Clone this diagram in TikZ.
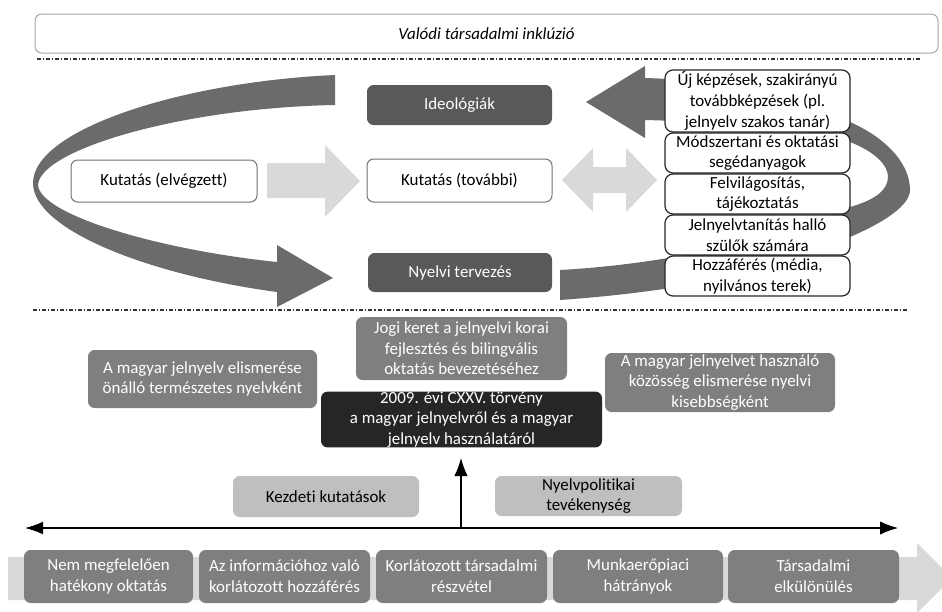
\documentclass[tikz,border=0pt]{standalone}
\usepackage{fontspec}
\setmainfont{Carlito}[Ligatures=CommonOff]
\usetikzlibrary{arrows.meta}
\definecolor{arcgray}{HTML}{6B6B6B}
\definecolor{lightarrow}{HTML}{D9D9D9}
\definecolor{dkgray}{HTML}{595959}
\definecolor{midgray}{HTML}{7F7F7F}
\definecolor{ltbox}{HTML}{BFBFBF}
\definecolor{nearblack}{HTML}{262626}
\newcommand\bx[6]{\node[#1, minimum width={(#4-#2)*0.75pt}, minimum height={(#5-#3)*0.75pt}] (#6) at ({(#2+#4)/2},{(#3+#5)/2})}
\begin{document}
\begin{tikzpicture}[x=0.75pt,y=-0.75pt,
  base/.style={inner sep=0pt, align=center, font=\fontsize{12.7}{15.5}\selectfont},
  whitebox/.style={base, draw=black!55, fill=white, rounded corners=5pt, line width=0.75pt},
  listbox/.style={base, draw=black!85, fill=white, rounded corners=6pt, line width=0.9pt},
  darkbox/.style={base, fill=dkgray, text=white, rounded corners=5pt},
  graybox/.style={base, fill=midgray, text=white, rounded corners=5pt},
  blackbox/.style={base, fill=nearblack, text=white, rounded corners=5pt},
  lightbox/.style={base, fill=ltbox, text=black, rounded corners=5pt},
  sepline/.style={line width=0.9pt, draw=black!80, dash pattern=on 3pt off 1.5pt on 0.8pt off 1.5pt},
  axis/.style={line width=0.8pt, draw=black}
]
\clip (0,0) rectangle (942,611);
\useasboundingbox (0,0) rectangle (942,611);

% top
\bx{whitebox, draw=black!35}{35}{14}{938}{53}{incl} {\itshape Valódi társadalmi inklúzió};
\coordinate (s1a) at (37,59);
\coordinate (s1b) at (922,59);
\draw[sepline] (s1a) -- (s1b);
\coordinate (s2a) at (33,310);
\coordinate (s2b) at (908,310);
\draw[sepline] (s2a) -- (s2b);

% left curved arrow
\fill[arcgray] (335,75) .. controls (180,82) and (33,130) .. (33,183)
  .. controls (33,230) and (150,275) .. (277,292)
  -- (277,307) -- (333,278) -- (277,245) -- (277,262)
  .. controls (160,250) and (40,215) .. (38,185)
  .. controls (40,150) and (180,108) .. (335,105) -- cycle;

% right curved arrow
\fill[arcgray] (560,300) .. controls (700,290) and (800,265) .. (850,237)
  .. controls (885,222) and (910,205) .. (910,190)
  .. controls (910,160) and (880,135) .. (850,122)
  .. controls (790,95) and (720,80) .. (645,78)
  -- (645,66) -- (586,102) -- (645,138) -- (645,120)
  .. controls (720,122) and (800,127) .. (850,142)
  .. controls (875,152) and (888,165) .. (888,177)
  .. controls (888,190) and (875,200) .. (850,207)
  .. controls (800,228) and (700,262) .. (560,270) -- cycle;

% light arrows
\fill[lightarrow] (267,163) -- (325,163) -- (325,145) -- (360,181) -- (325,217) -- (325,198) -- (267,198) -- cycle;
\fill[lightarrow] (562,180) -- (593,148) -- (593,167) -- (626,167) -- (626,148) -- (657,180)
  -- (626,212) -- (626,193) -- (593,193) -- (593,212) -- cycle;

% left column
\bx{whitebox}{71}{160}{257}{202}{kel} {Kutatás (elvégzett)};
\bx{darkbox}{367}{85}{552}{125}{ideo} {Ideológiák};
\bx{whitebox}{367}{159}{552}{202}{kto} {Kutatás (további)};
\bx{darkbox}{368}{253}{552}{292}{nyt} {Nyelvi tervezés};

% right column
\bx{listbox}{665}{70}{850}{132}{r1} {Új képzések, szakirányú\\továbbképzések (pl.\\jelnyelv szakos tanár)};
\bx{listbox}{665}{133}{850}{173}{r2} {Módszertani és oktatási\\segédanyagok};
\bx{listbox}{665}{174}{850}{214}{r3} {Felvilágosítás,\\tájékoztatás};
\bx{listbox}{665}{215}{850}{255}{r4} {Jelnyelvtanítás halló\\szülők számára};
\bx{listbox}{665}{256}{850}{296}{r5} {Hozzáférés (média,\\nyilvános terek)};

% middle
\bx{graybox}{356}{317}{567}{380}{jogi} {Jogi keret a jelnyelvi korai\\fejlesztés és bilingvális\\oktatás bevezetéséhez};
\bx{graybox}{88}{350}{317}{408}{elism} {A magyar jelnyelv elismerése\\önálló természetes nyelvként};
\bx{blackbox}{321}{392}{602}{447}{torv} {2009. évi CXXV. törvény\\a magyar jelnyelvről és a magyar\\jelnyelv használatáról};
\bx{graybox}{605}{353}{835}{412}{kozos} {A magyar jelnyelvet használó\\közösség elismerése nyelvi\\kisebbségként};

% lower
\bx{lightbox}{233}{476}{419}{517}{kezd} {Kezdeti kutatások};
\bx{lightbox}{495}{476}{682}{516}{nyp} {Nyelvpolitikai\\tevékenység};

\coordinate (axL) at (25,528);
\coordinate (axR) at (898,528);
\coordinate (vb) at (461,528);
\coordinate (vt) at (461,458);
\draw[axis, {Latex[length=13.5pt,width=9.5pt]}-{Latex[length=13.5pt,width=10pt]}] (axL) -- (axR);
\draw[axis, -{Latex[length=13.5pt,width=10pt]}] (vb) -- (vt);

% bottom arrow
\fill[lightarrow] (8,557) -- (917,557) -- (917,543) -- (952,578) -- (917,613) -- (917,600) -- (8,600) -- cycle;
\bx{graybox}{24}{550}{193}{603}{b1} {Nem megfelelően\\hatékony oktatás};
\bx{graybox}{199}{550}{370}{603}{b2} {Az információhoz való\\korlátozott hozzáférés};
\bx{graybox}{376}{550}{547}{603}{b3} {Korlátozott társadalmi\\részvétel};
\bx{graybox}{553}{550}{723}{603}{b4} {Munkaerőpiaci\\hátrányok};
\bx{graybox}{728}{550}{899}{603}{b5} {Társadalmi\\elkülönülés};
\end{tikzpicture}
\end{document}
